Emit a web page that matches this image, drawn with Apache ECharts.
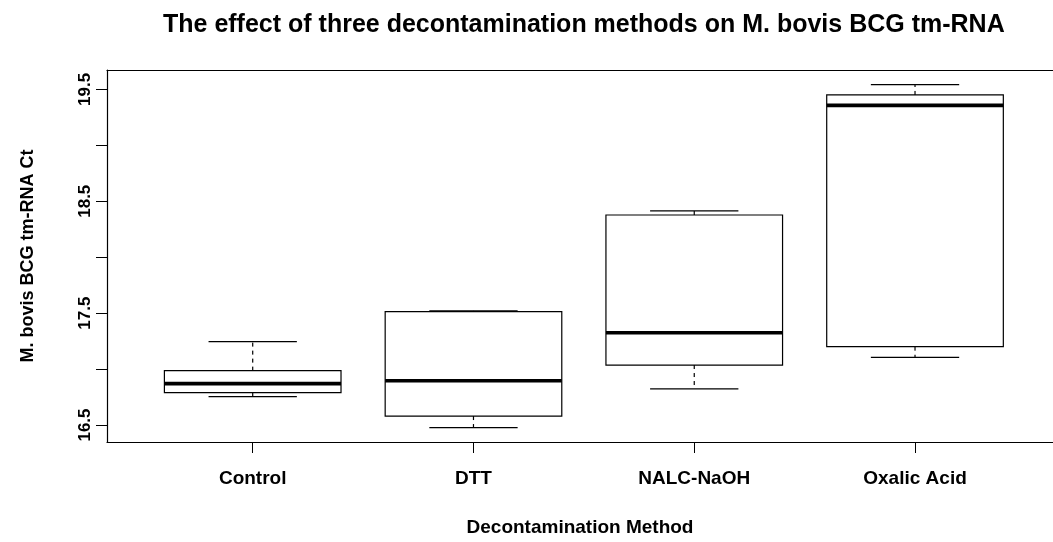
<!DOCTYPE html>
<html>
<head>
<meta charset="utf-8">
<title>Decontamination methods boxplot</title>
<script src="https://cdn.jsdelivr.net/npm/echarts@6/dist/echarts.min.js"></script>
<style>
  html, body { margin: 0; padding: 0; background: #ffffff; }
  #chart { width: 1053px; height: 542px; }
</style>
</head>
<body>
<div id="chart"></div>
<script>
// Decontamination methods along the x axis
const categories = ['Control', 'DTT', 'NALC-NaOH', 'Oxalic Acid'];

// Five-number summaries of tm-RNA Ct per method
const whiskerLow  = [16.753, 16.476, 16.822, 17.105];
const quartile1   = [16.789, 16.580, 17.036, 17.200];
const medians     = [16.870, 16.896, 17.325, 19.357];
const quartile3   = [16.986, 17.513, 18.377, 19.450];
const whiskerHigh = [17.245, 17.520, 18.413, 19.542];

// Axis ticks and labels
const yTicks  = [16.5, 17.0, 17.5, 18.0, 18.5, 19.0, 19.5];
const yLabels = [16.5, 17.5, 18.5, 19.5];
const xTicks  = [1, 2, 3, 4];

const FONT = '"Liberation Sans", Arial, Helvetica, sans-serif';

const boxData = categories.map((c, i) => [
  i + 1, whiskerLow[i], quartile1[i], medians[i], quartile3[i], whiskerHigh[i]
]);

// One box: dashed whiskers, caps, white box and a heavy median bar
function renderBox(params, api) {
  const x = api.value(0);
  const lo = api.coord([x, api.value(1)]);
  const q1 = api.coord([x, api.value(2)]);
  const md = api.coord([x, api.value(3)]);
  const q3 = api.coord([x, api.value(4)]);
  const hi = api.coord([x, api.value(5)]);
  const boxHalf = api.size([0.4, 0])[0];
  const capHalf = api.size([0.2, 0])[0];
  const cx = lo[0];
  const thin = { stroke: '#000', lineWidth: 1.2, fill: null };
  const dashed = { stroke: '#000', lineWidth: 1.2, lineDash: [4, 4] };
  return {
    type: 'group',
    children: [
      { type: 'line', shape: { x1: cx, y1: q3[1], x2: cx, y2: hi[1] }, style: dashed },
      { type: 'line', shape: { x1: cx, y1: q1[1], x2: cx, y2: lo[1] }, style: dashed },
      { type: 'line', shape: { x1: cx - capHalf, y1: hi[1], x2: cx + capHalf, y2: hi[1] }, style: thin },
      { type: 'line', shape: { x1: cx - capHalf, y1: lo[1], x2: cx + capHalf, y2: lo[1] }, style: thin },
      {
        type: 'rect',
        shape: { x: cx - boxHalf, y: q3[1], width: boxHalf * 2, height: q1[1] - q3[1] },
        style: { stroke: '#000', lineWidth: 1.2, fill: '#fff' }
      },
      { type: 'line', shape: { x1: cx - boxHalf, y1: md[1], x2: cx + boxHalf, y2: md[1] },
        style: { stroke: '#000', lineWidth: 3.6 } }
    ]
  };
}

const chart = echarts.init(document.getElementById('chart'), null, { renderer: 'canvas' });

chart.setOption({
  animation: false,
  backgroundColor: '#ffffff',
  title: {
    text: 'The effect of three decontamination methods on M. bovis BCG tm-RNA',
    left: 158,
    top: 8,
    textStyle: { fontFamily: FONT, fontSize: 25, fontWeight: 'bold', color: '#000' }
  },
  grid: { left: 107, right: 0, top: 70, bottom: 100, containLabel: false },
  xAxis: [
    {
      type: 'value',
      min: 0.34,
      max: 4.625,
      position: 'bottom',
      splitLine: { show: false },
      axisLine: { show: true, lineStyle: { color: '#000', width: 1.2 } },
      axisTick: { show: true, customValues: xTicks, length: 11, lineStyle: { color: '#000', width: 1 } },
      axisLabel: {
        show: true,
        customValues: xTicks,
        margin: 27,
        formatter: v => categories[Math.round(v) - 1] || '',
        fontFamily: FONT, fontSize: 19, fontWeight: 'bold', color: '#000'
      },
      name: 'Decontamination Method',
      nameLocation: 'middle',
      nameGap: 76,
      nameTextStyle: { fontFamily: FONT, fontSize: 19, fontWeight: 'bold', color: '#000' }
    },
    {
      type: 'value',
      min: 0.34,
      max: 4.625,
      position: 'top',
      splitLine: { show: false },
      axisLine: { show: true, lineStyle: { color: '#000', width: 1.2 } },
      axisTick: { show: false },
      axisLabel: { show: false }
    }
  ],
  yAxis: {
    type: 'value',
    min: 16.348,
    max: 19.673,
    splitLine: { show: false },
    axisLine: { show: true, lineStyle: { color: '#000', width: 1.2 } },
    axisTick: { show: true, customValues: yTicks, length: 11, lineStyle: { color: '#000', width: 1 } },
    axisLabel: {
      show: true,
      customValues: yLabels,
      rotate: 90,
      margin: 13,
      formatter: v => Number(v).toFixed(1),
      fontFamily: FONT, fontSize: 17, fontWeight: 'bold', color: '#000'
    },
    name: 'M. bovis BCG tm-RNA Ct',
    nameLocation: 'middle',
    nameGap: 70,
    nameTextStyle: { fontFamily: FONT, fontSize: 18, fontWeight: 'bold', color: '#000' }
  },
  series: [{
    type: 'custom',
    xAxisIndex: 0,
    renderItem: renderBox,
    encode: { x: 0, y: [1, 2, 3, 4, 5] },
    data: boxData,
    clip: false
  }]
});
</script>
</body>
</html>
